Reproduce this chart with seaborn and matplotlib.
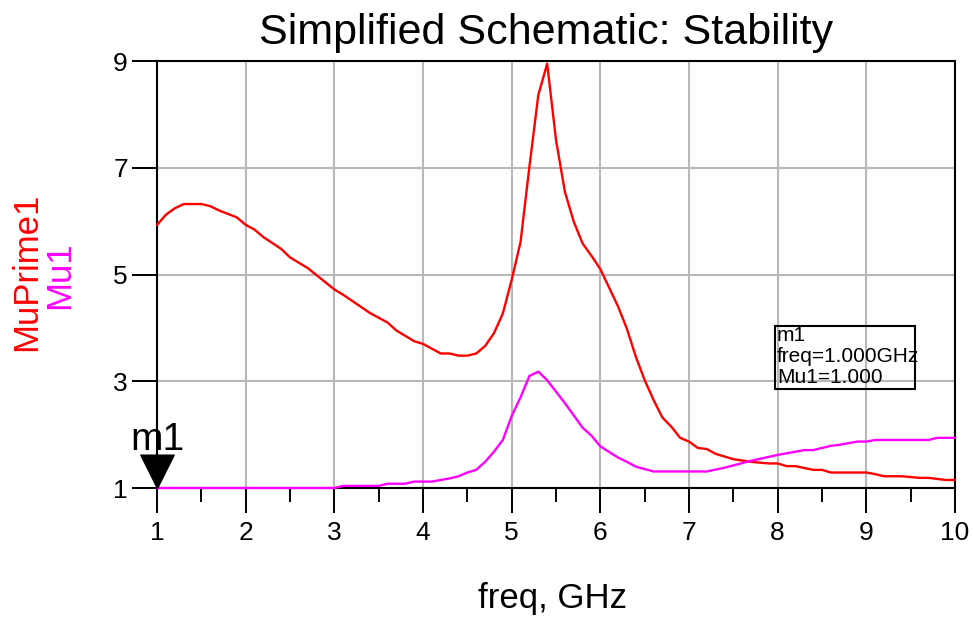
import matplotlib
matplotlib.use("Agg")
import matplotlib.pyplot as plt
from matplotlib.path import Path
from matplotlib.patches import Rectangle
from matplotlib.ticker import MultipleLocator
import seaborn as sns

# %% data
freq_muprime = [1.0, 1.1, 1.2, 1.3, 1.5, 1.6, 1.7, 1.9, 2.0, 2.1, 2.2, 2.4, 2.5, 2.7,
                3.0, 3.1, 3.4, 3.6, 3.7, 3.9, 4.0, 4.2, 4.3, 4.4, 4.5, 4.6, 4.7, 4.8,
                4.9, 5.0, 5.1, 5.2, 5.3, 5.4, 5.5, 5.6, 5.7, 5.8, 5.9, 6.0, 6.1, 6.2,
                6.3, 6.4, 6.5, 6.6, 6.7, 6.8, 6.9, 7.0, 7.1, 7.2, 7.3, 7.5, 7.7, 7.9,
                8.0, 8.1, 8.2, 8.4, 8.5, 8.6, 9.0, 9.1, 9.2, 9.4, 9.6, 9.7, 9.9, 10.0]
muprime1 = [5.93, 6.12, 6.24, 6.32, 6.32, 6.28, 6.20, 6.07, 5.93, 5.84, 5.70, 5.48, 5.32, 5.12,
            4.72, 4.62, 4.28, 4.10, 3.95, 3.75, 3.70, 3.52, 3.52, 3.48, 3.48, 3.52, 3.66, 3.90,
            4.27, 4.90, 5.61, 7.02, 8.36, 8.95, 7.52, 6.55, 5.99, 5.58, 5.35, 5.10, 4.75, 4.40,
            3.98, 3.46, 3.02, 2.65, 2.32, 2.15, 1.94, 1.87, 1.75, 1.73, 1.64, 1.54, 1.49, 1.46,
            1.46, 1.41, 1.41, 1.34, 1.34, 1.29, 1.29, 1.26, 1.22, 1.22, 1.19, 1.19, 1.15, 1.15]

freq_mu = [1.0, 3.0, 3.1, 3.5, 3.6, 3.8, 3.9, 4.1, 4.3, 4.4, 4.5, 4.6, 4.7, 4.8, 4.9, 5.0,
           5.1, 5.2, 5.3, 5.4, 5.6, 5.8, 5.9, 6.0, 6.2, 6.3, 6.4, 6.6, 7.2, 7.4, 7.7, 8.0,
           8.3, 8.4, 8.6, 8.7, 8.9, 9.0, 9.1, 9.7, 9.8, 10.0]
mu1 = [1.0, 1.0, 1.04, 1.04, 1.08, 1.08, 1.12, 1.12, 1.18, 1.22, 1.29, 1.34, 1.49, 1.68, 1.90, 2.35,
       2.70, 3.10, 3.18, 3.02, 2.59, 2.13, 1.98, 1.78, 1.57, 1.49, 1.40, 1.31, 1.31, 1.38, 1.51, 1.62,
       1.71, 1.71, 1.79, 1.81, 1.87, 1.87, 1.90, 1.90, 1.94, 1.94]

x_ticks = list(range(1, 11))
y_ticks = [1, 3, 5, 7, 9]

marker_name = "m1"
marker_freq = freq_mu[0]
marker_val = mu1[0]
readout = ["m1", "freq=1.000GHz", "Mu1=1.000"]

# %% style
sns.set_style("white")
plt.rcParams['font.family'] = ['Liberation Sans', 'DejaVu Sans']
plt.rcParams['text.color'] = 'black'
plt.rcParams['xtick.color'] = 'black'
plt.rcParams['ytick.color'] = 'black'

fig = plt.figure(figsize=(9.73, 6.2), dpi=100)
ax = fig.add_axes([0.1614, 0.2129, 0.8201, 0.6887])

sns.lineplot(x=freq_muprime, y=muprime1, ax=ax, color='#ff0000', lw=1.7,
             clip_on=False, zorder=4)
sns.lineplot(x=freq_mu, y=mu1, ax=ax, color='#ff00ff', lw=1.7,
             clip_on=False, zorder=4)

ax.set_xlim(1, 10)
ax.set_ylim(1, 9)
ax.set_xticks(x_ticks)
ax.set_yticks(y_ticks)
ax.xaxis.set_minor_locator(MultipleLocator(0.5))
ax.set_xlabel("")
ax.set_ylabel("")

ax.grid(True, which='major', color='#b8b8b8', lw=1.5)
ax.set_axisbelow(True)
for s in ax.spines.values():
    s.set_color('black')
    s.set_linewidth(1.5)

ax.tick_params(axis='both', which='major', direction='out', length=18, width=1.4,
               labelsize=19, colors='black', bottom=True, left=True)
ax.tick_params(axis='x', which='major', pad=6)
ax.tick_params(axis='y', which='major', pad=3)
ax.tick_params(axis='x', which='minor', direction='out', length=10, width=1.4,
               color='black', bottom=True)

# marker m1: downward triangle with its tip on the point
tri = Path([(-0.5, 1.0), (0.5, 1.0), (0.0, 0.0), (-0.5, 1.0)],
           [Path.MOVETO, Path.LINETO, Path.LINETO, Path.CLOSEPOLY])
ax.plot([marker_freq], [marker_val], marker=tri, ms=48, color='black',
        linestyle='none', clip_on=False, zorder=5)
ax.annotate(marker_name, xy=(marker_freq, marker_val), xytext=(0, 38),
            textcoords='offset pixels', ha='center', va='baseline', fontsize=28)

# marker readout box
ax.add_patch(Rectangle((7.97, 2.85), 1.58, 1.19, fill=False, ec='black', lw=1.5, zorder=5))
for i, line in enumerate(readout):
    ax.text(7.99, 3.865 - i * 0.393, line, ha='left', va='center', fontsize=15, zorder=5)

# titles and axis labels
fig.text(0.561, 1 - 44 / 620, "Simplified Schematic: Stability", ha='center',
         va='baseline', fontsize=31)
fig.text(553 / 973, 1 - 608 / 620, "freq, GHz", ha='center', va='baseline', fontsize=25)
fig.text(27 / 973, 0.561, "MuPrime1", rotation=90, color='#ff0000', ha='center',
         va='center', fontsize=25)
fig.text(60 / 973, 0.556, "Mu1", rotation=90, color='#ff00ff', ha='center',
         va='center', fontsize=25)

fig.savefig("out.png", dpi=100)
